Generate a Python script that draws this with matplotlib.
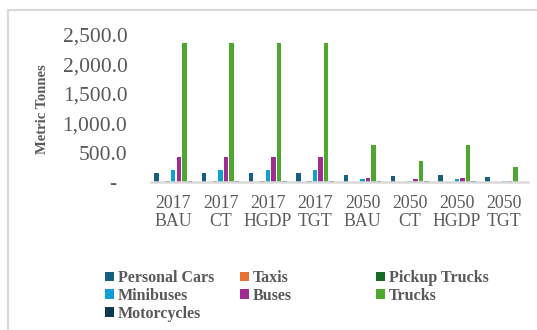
import matplotlib as mpl
import matplotlib.pyplot as plt
import numpy as np
from matplotlib.lines import Line2D

# DATA
scenarios = ["2017\nBAU", "2017\nCT", "2017\nHGDP", "2017\nTGT",
             "2050\nBAU", "2050\nCT", "2050\nHGDP", "2050\nTGT"]
personal_cars = [160, 160, 160, 160, 120, 102, 120, 96]
taxis = [3, 3, 3, 3, 2, 2, 2, 2]
pickup_trucks = [30, 30, 30, 30, 6, 5, 6, 4]
minibuses = [220, 220, 220, 220, 62, 25, 62, 20]
buses = [430, 430, 430, 430, 74, 57, 74, 20]
trucks = [2365, 2365, 2365, 2365, 630, 365, 630, 255]
motorcycles = [25, 25, 25, 25, 22, 20, 22, 10]

series = [
	("Personal Cars", personal_cars, "#156082"),
	("Taxis", taxis, "#E97132"),
	("Pickup Trucks", pickup_trucks, "#196B24"),
	("Minibuses", minibuses, "#0F9ED5"),
	("Buses", buses, "#A02B93"),
	("Trucks", trucks, "#4EA72E"),
	("Motorcycles", motorcycles, "#0E3A50"),
]

mpl.rcParams["font.family"] = ["Liberation Serif", "DejaVu Serif"]
text_col = "#595959"

fig = plt.figure(figsize=(5.37, 3.30), dpi=100)
ax = fig.add_axes([151 / 537, 1 - 182.5 / 330, 377 / 537, 147.5 / 330])

x = np.arange(len(scenarios))
step = 0.117
width = 0.095
handles = {}
for i, (name, vals, col) in enumerate(series):
	bars = ax.bar(x + (i - 3) * step, vals, width=width, color=col, zorder=2)
	handles[name] = bars

ax.set_xlim(-0.47, 7.5)
ax.set_ylim(0, 2500)
ax.set_yticks(np.arange(0, 2501, 500))
ax.yaxis.set_major_formatter(
	mpl.ticker.FuncFormatter(lambda v, p: "-  " if v == 0 else f"{v:,.1f}"))
ax.set_xticks(x)
ax.set_xticklabels(scenarios, linespacing=1.05, multialignment="center")
ax.tick_params(axis="y", length=0, pad=17, labelsize=15.5, labelcolor=text_col)
ax.tick_params(axis="x", length=0, pad=9, labelsize=12.8, labelcolor=text_col)

for s in ["top", "right", "left"]:
	ax.spines[s].set_visible(False)
ax.spines["bottom"].set_color("#D9D9D9")
ax.spines["bottom"].set_linewidth(1.8)

fig.text(42 / 537, 1 - 109 / 330, "Metric Tonnes", rotation=90,
         ha="center", va="center", fontsize=10.5, fontweight="bold",
         color=text_col)

# light frame of the chart area
fig.add_artist(Line2D([8 / 537, 8 / 537], [0, 1 - 10 / 330],
                      color="#D9D9D9", lw=1.5))
fig.add_artist(Line2D([8 / 537, 536 / 537], [1 - 10 / 330, 1 - 10 / 330],
                      color="#D9D9D9", lw=1.5))

# legend: three columns laid out as in the reference
columns = [
	(105, ["Personal Cars", "Minibuses", "Motorcycles"]),
	(240, ["Taxis", "Buses"]),
	(376, ["Pickup Trucks", "Trucks"]),
]
for xpos, names in columns:
	leg = fig.legend([handles[n] for n in names], names,
	                 loc="upper left", bbox_to_anchor=(xpos / 537, 1 - 270 / 330),
	                 frameon=False, borderpad=0, borderaxespad=0,
	                 handlelength=0.55, handleheight=0.55, handletextpad=0.25,
	                 labelspacing=0.12,
	                 prop={"size": 11.5, "weight": "bold"})
	for t in leg.get_texts():
		t.set_color(text_col)

plt.savefig("out.png", dpi=100)
